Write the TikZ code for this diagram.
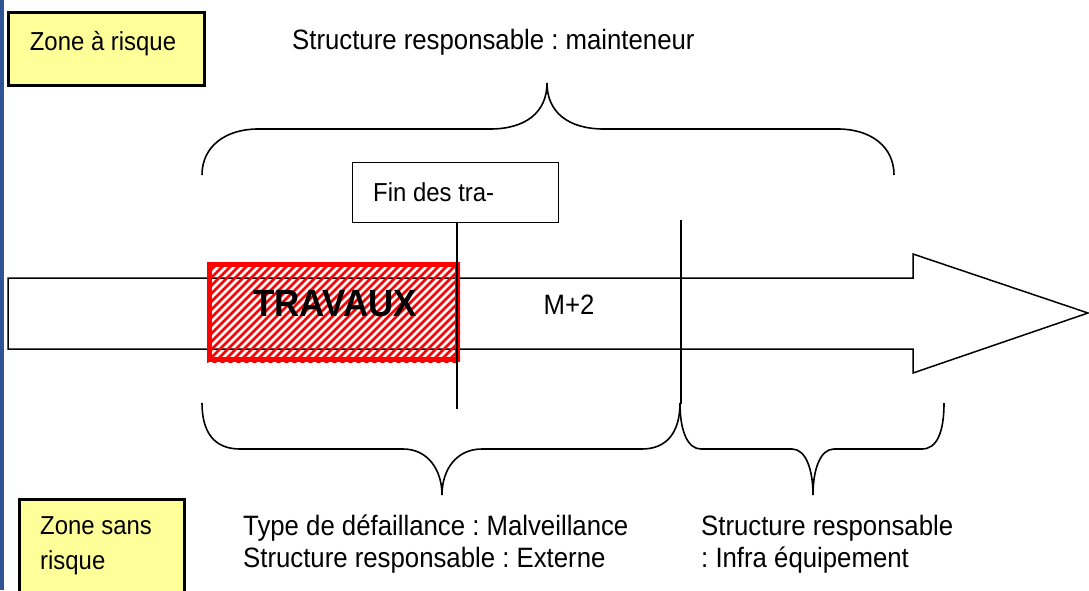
\documentclass[tikz,border=0pt]{standalone}
\usepackage{fontspec}
\setmainfont{Liberation Sans}[FakeStretch=0.92]
\frenchspacing
\definecolor{zoneyellow}{HTML}{FFFF99}
\definecolor{barblue}{HTML}{2F5597}
\definecolor{hatchred}{HTML}{FF0000}
\begin{document}
\begin{tikzpicture}[x=1pt,y=-1pt,
  bigtext/.style={font=\fontsize{28}{32}\selectfont, inner sep=0pt},
  smalltext/.style={font=\fontsize{26}{35}\selectfont, inner sep=0pt},
  zonebox/.style={draw=black, line width=2.6pt, fill=zoneyellow, inner sep=0pt},
  brace/.style={draw=black, line width=1.6pt},
  tick/.style={draw=black, line width=1.6pt},
  arrowshape/.style={draw=black, line width=1.5pt, fill=white, line join=miter}
]
\useasboundingbox (0,0) rectangle (1089,590);
\clip (0,0) rectangle (1089,590);
\fill[white] (0,0) rectangle (1089,590);
% blue bar at the left edge
\fill[barblue] (0,0) rectangle (4,590);

% big arrow
\draw[arrowshape] (8,278) -- (913,278) -- (913,254) -- (1088,313) -- (913,373) -- (913,349) -- (8,349) -- cycle;

% TRAVAUX hatched box
\begin{scope}
  \clip (207,262) rectangle (460,362);
  \foreach \x in {200,208,...,600} {
    \draw[hatchred, line width=2.8pt] (\x-110,367) -- (\x,257);
  }
\end{scope}
\node[draw=hatchred, line width=5pt, minimum width=248, minimum height=95, inner sep=0pt] (trav) at (333.5,312) {};
\node[font=\bfseries\fontsize{38}{40}\selectfont, inner sep=0pt] (travtxt) at (335,304) {TRAVAUX};

% M+2
\node[bigtext] (m2) at (569,305) {M+2};

% zone boxes
\node[zonebox, minimum width=196, minimum height=73, anchor=north west] (zar) at (7,11) {};
\node[smalltext] (zartxt) at (103,44) {Zone à risque};
\node[zonebox, minimum width=165, minimum height=130, anchor=north west] (zsr) at (18,498) {};
\node[smalltext, align=left, anchor=west] (zsrtxt) at (40,546) {Zone sans\\risque};

% top label
\node[bigtext, anchor=west] (maint) at (292,42) {Structure responsable : mainteneur};

% top brace
\draw[brace] (202,175) .. controls (202,146) and (226,129) .. (258,129) -- (490,129)
  .. controls (526,129) and (547,112) .. (547,83)
  .. controls (547,112) and (568,129) .. (604,129) -- (838,129)
  .. controls (870,129) and (894,146) .. (894,175);

% Fin des travaux box
\node[draw=black, line width=1.4pt, minimum width=206, minimum height=60, anchor=north west, inner sep=0pt] (fin) at (352,162) {};
\node[smalltext, anchor=west] (fintxt) at (373,192) {Fin des tra-};
\coordinate (finend) at (457,409);
\draw[tick] (fin.south -| finend) -- (finend);

% second vertical mark
\coordinate (marktop) at (681,220);
\coordinate (markbot) at (681,404);
\draw[tick] (marktop) -- (markbot);

% bottom-left brace
\draw[brace] (202,403) .. controls (202,432) and (214,449) .. (240,449) -- (403,449)
  .. controls (428,449) and (442,470) .. (442,495)
  .. controls (442,470) and (456,449) .. (482,449) -- (642,449)
  .. controls (667,449) and (680,432) .. (680,403);

% bottom-right brace
\draw[brace] (680,403) .. controls (680,432) and (688,449) .. (701,449) -- (792,449)
  .. controls (806,449) and (813,470) .. (813,495)
  .. controls (813,470) and (820,449) .. (834,449) -- (922,449)
  .. controls (937,449) and (944,432) .. (944,403);

% bottom texts
\node[bigtext, align=left, anchor=west] (ext) at (243,544) {Type de défaillance : Malveillance\\Structure responsable : Externe};
\node[bigtext, align=left, anchor=west] (infra) at (701,544) {Structure responsable\\: Infra équipement};
\end{tikzpicture}
\end{document}
